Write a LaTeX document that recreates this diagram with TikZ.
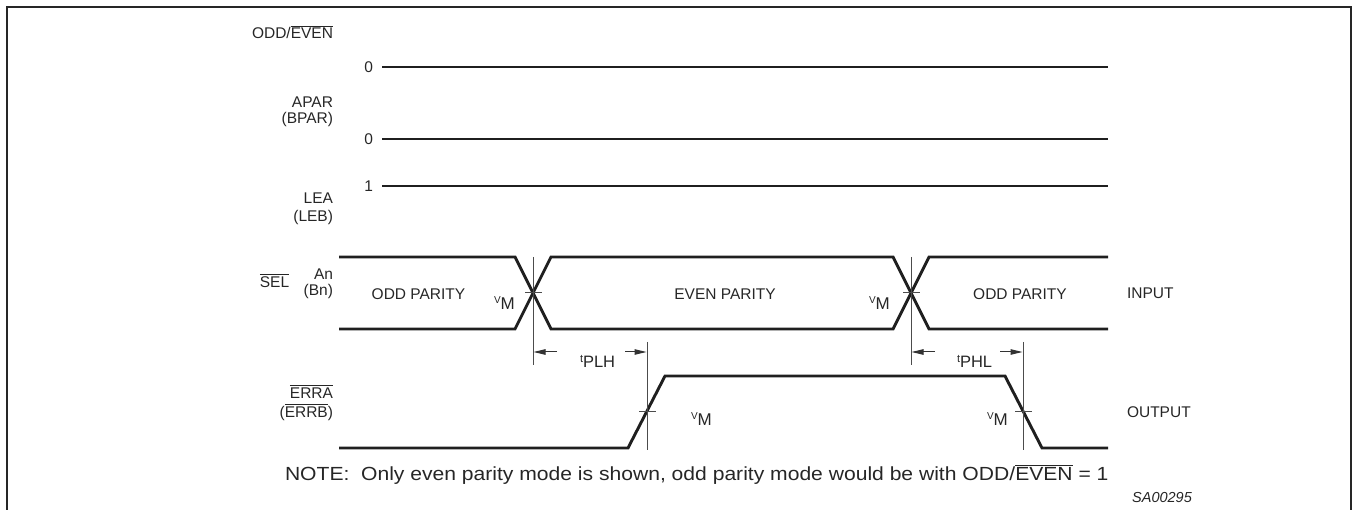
\documentclass[tikz,border=0pt]{standalone}
\usepackage{fontspec}
\setmainfont{Liberation Sans}
\usetikzlibrary{arrows.meta}
\newcommand{\ovl}[1]{\leavevmode\vbox{\hrule height 1pt\kern1.6pt\hbox{#1}}}
\newcommand{\vmlabel}{\raisebox{6.5pt}{\fontsize{10}{10}\selectfont V}{\fontsize{17}{18}\selectfont M}}
\newcommand{\tlabel}[1]{\raisebox{5pt}{\fontsize{11}{11}\selectfont t}{\fontsize{16.5}{18}\selectfont #1}}
\newcommand{\fs}{\fontsize{15.5}{18}\selectfont}
\begin{document}
\begin{tikzpicture}[x=1pt,y=-1pt,
  lbl/.style={font=\fs, inner sep=0pt, outer sep=0pt, text=black!85},
  sig/.style={line width=2.9pt, black!88},
  thinline/.style={line width=1pt, black!70},
  meas/.style={line width=1pt, black!80, -{Triangle[length=12pt,width=5.5pt]}},
  framestyle/.style={line width=2.6pt, black!85}]
\useasboundingbox (0,0) rectangle (1353,510);
% frame
\coordinate (fbl) at (7,512);
\coordinate (ftl) at (7,7);
\coordinate (ftr) at (1351,7);
\coordinate (fbr) at (1351,512);
\draw[framestyle] (fbl) -- (ftl) -- (ftr) -- (fbr);

% static signals
\node[lbl, anchor=base east] (oddeven) at (333,39) {ODD/\ovl{EVEN}};
\node[lbl, anchor=base east] (z1) at (373,72.5) {0};
\coordinate (s1a) at (382,67); \coordinate (s1b) at (1108,67);
\draw[sig] (s1a) -- (s1b);

\node[lbl, anchor=base east] (apar) at (333,107.5) {APAR};
\node[lbl, anchor=base east] (bpar) at (333,123.5) {(BPAR)};
\node[lbl, anchor=base east] (z2) at (373,144.5) {0};
\coordinate (s2a) at (382,139); \coordinate (s2b) at (1108,139);
\draw[sig] (s2a) -- (s2b);

\node[lbl, anchor=base east] (one) at (373,191.5) {1};
\coordinate (s3a) at (382,186); \coordinate (s3b) at (1108,186);
\draw[sig] (s3a) -- (s3b);
\node[lbl, anchor=base east] (lea) at (333,203.5) {LEA};
\node[lbl, anchor=base east] (leb) at (333,221.5) {(LEB)};

% input
\node[lbl, anchor=base] (sel) at (274.5,287.5) {\ovl{SEL}};
\node[lbl, anchor=base east] (an) at (333,279.5) {An};
\node[lbl, anchor=base east] (bn) at (333,295.5) {(Bn)};

\coordinate (i1) at (339,257); \coordinate (i2) at (515,257);
\coordinate (i3) at (551,329); \coordinate (i4) at (893,329);
\coordinate (i5) at (929,257); \coordinate (i6) at (1108,257);
\coordinate (j1) at (339,329); \coordinate (j2) at (515,329);
\coordinate (j3) at (551,257); \coordinate (j4) at (893,257);
\coordinate (j5) at (929,329); \coordinate (j6) at (1108,329);
\draw[sig] (i1) -- (i2) -- (i3) -- (i4) -- (i5) -- (i6);
\draw[sig] (j1) -- (j2) -- (j3) -- (j4) -- (j5) -- (j6);

\node[lbl, anchor=base] (odd1) at (418.5,299.5) {ODD PARITY};
\node[lbl, anchor=base] (even) at (725,299.5) {EVEN PARITY};
\node[lbl, anchor=base] (odd2) at (1020,299.5) {ODD PARITY};
\node[lbl, anchor=base west] (inp) at (1127,298.5) {INPUT};

\node[lbl, anchor=base west] (vm1) at (494,310) {\vmlabel};
\node[lbl, anchor=base west] (vm2) at (869,310) {\vmlabel};

% output
\node[lbl, anchor=base east] (erra) at (333,398.5) {\ovl{ERRA}};
\node[lbl, anchor=base east] (errb) at (333,417.5) {(\ovl{ERRB})};
\coordinate (o1) at (339,448); \coordinate (o2) at (628,448);
\coordinate (o3) at (665,376); \coordinate (o4) at (1005,376);
\coordinate (o5) at (1042,448); \coordinate (o6) at (1108,448);
\draw[sig] (o1) -- (o2) -- (o3) -- (o4) -- (o5) -- (o6);
\node[lbl, anchor=base west] (outp) at (1127,417.5) {OUTPUT};
\node[lbl, anchor=base west] (vm3) at (691,426) {\vmlabel};
\node[lbl, anchor=base west] (vm4) at (987,426) {\vmlabel};

% reference verticals and ticks
\coordinate (v1t) at (533,257); \coordinate (v1b) at (533,365);
\coordinate (v2t) at (911,257); \coordinate (v2b) at (911,365);
\coordinate (v3t) at (647,342); \coordinate (v3b) at (647,450);
\coordinate (v4t) at (1023,342); \coordinate (v4b) at (1023,450);
\draw[thinline] (v1t) -- (v1b);
\draw[thinline] (v2t) -- (v2b);
\draw[thinline] (v3t) -- (v3b);
\draw[thinline] (v4t) -- (v4b);
\coordinate (k1a) at (525,293); \coordinate (k1b) at (542,293);
\coordinate (k2a) at (903,293); \coordinate (k2b) at (920,293);
\coordinate (k3a) at (639,412); \coordinate (k3b) at (656,412);
\coordinate (k4a) at (1015,412); \coordinate (k4b) at (1032,412);
\draw[thinline] (k1a) -- (k1b);
\draw[thinline] (k2a) -- (k2b);
\draw[thinline] (k3a) -- (k3b);
\draw[thinline] (k4a) -- (k4b);

% timing arrows
\coordinate (a1s) at (557,352); \coordinate (a1e) at (533.5,352);
\coordinate (a2s) at (625,352); \coordinate (a2e) at (646.5,352);
\coordinate (a3s) at (935,352); \coordinate (a3e) at (911.5,352);
\coordinate (a4s) at (1000,352); \coordinate (a4e) at (1022.5,352);
\draw[meas] (a1s) -- (a1e);
\draw[meas] (a2s) -- (a2e);
\draw[meas] (a3s) -- (a3e);
\draw[meas] (a4s) -- (a4e);
\node[lbl, anchor=base west] (tplh) at (580,368) {\tlabel{PLH}};
\node[lbl, anchor=base west] (tphl) at (957,368) {\tlabel{PHL}};

% note
\node[lbl, anchor=base west] (note) at (285,481) {\scalebox{1.11}[1]{\fontsize{19}{22}\selectfont NOTE:\ \ Only even parity mode is shown, odd parity mode would be with ODD/\ovl{EVEN} = 1}};
\node[lbl, anchor=base, font=\fontsize{14.5}{16}\selectfont\itshape] (code) at (1162,503) {SA00295};
\end{tikzpicture}
\end{document}
